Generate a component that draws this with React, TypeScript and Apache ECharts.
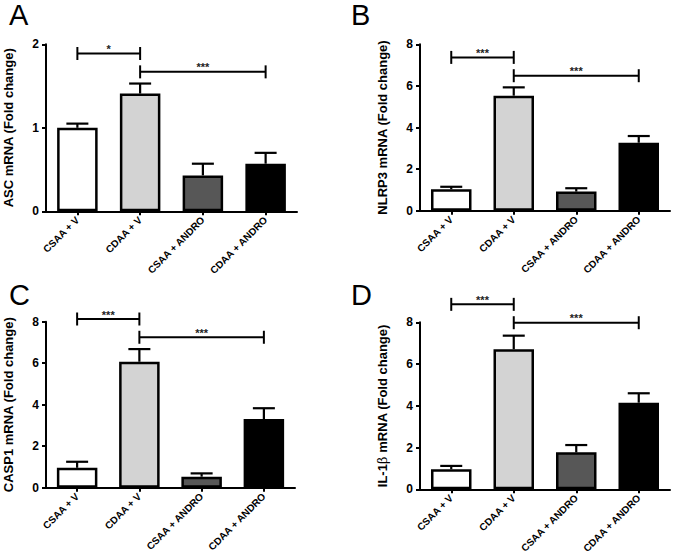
import React, { useEffect, useRef } from "react";
import * as echarts from "echarts";

const categories = ["CSAA + V", "CDAA + V", "CSAA + ANDRO", "CDAA + ANDRO"];
const barColors = ["#ffffff", "#d3d3d3", "#575757", "#000000"];

const ascMean = [1.0, 1.41, 0.43, 0.57];
const ascErr = [0.05, 0.12, 0.14, 0.13];
const nlrp3Mean = [1.03, 5.53, 0.92, 3.27];
const nlrp3Err = [0.12, 0.4, 0.16, 0.32];
const casp1Mean = [0.96, 6.07, 0.53, 3.31];
const casp1Err = [0.29, 0.61, 0.16, 0.52];
const il1bMean = [0.96, 6.71, 1.77, 4.15];
const il1bErr = [0.16, 0.65, 0.35, 0.45];

// significance brackets: [fromCategory, toCategory, yValue]
const ascSig = [[0, 1, 1.89], [1, 3, 1.67]];
const ascSigLabels = ["*", "***"];
const nlrp3Sig = [[0, 1, 7.37], [1, 3, 6.49]];
const nlrp3SigLabels = ["***", "***"];
const casp1Sig = [[0, 1, 8.13], [1, 3, 7.25]];
const casp1SigLabels = ["***", "***"];
const il1bSig = [[0, 1, 8.86], [1, 3, 7.98]];
const il1bSigLabels = ["***", "***"];

const yMaxes = [2, 8, 8, 8];
const yIntervals = [1, 2, 2, 2];
const yNames = [
  "ASC mRNA (Fold change)",
  "NLRP3 mRNA (Fold change)",
  "CASP1 mRNA (Fold change)",
  "IL-1{b|β} mRNA (Fold change)",
];
const panelLetters = ["A", "B", "C", "D"];

const FONT = "'Liberation Sans', Arial, Helvetica, sans-serif";

export default function App() {
  const ref = useRef<HTMLDivElement>(null);
  useEffect(() => {
    if (!ref.current) return;
    const chart = echarts.init(ref.current, null, { renderer: "svg" });
    const grids = [
      { left: 46, top: 44.3, width: 251, height: 167 },
      { left: 420, top: 44.3, width: 250, height: 166.4 },
      { left: 46, top: 321.7, width: 249, height: 166 },
      { left: 420, top: 322.3, width: 250, height: 167 },
    ];
    const means = [ascMean, nlrp3Mean, casp1Mean, il1bMean];
    const errs = [ascErr, nlrp3Err, casp1Err, il1bErr];
    const sigs = [ascSig, nlrp3Sig, casp1Sig, il1bSig];
    const sigLabels = [ascSigLabels, nlrp3SigLabels, casp1SigLabels, il1bSigLabels];
    const letterPos = [
      [9, 15],
      [351, 15],
      [9, 295],
      [351, 295],
    ];

    const series: any[] = [];
    for (let i = 0; i < 4; i++) {
      series.push({
        type: "bar",
        xAxisIndex: i,
        yAxisIndex: i,
        barWidth: 40.5,
        data: means[i].map((v, k) => ({
          value: v,
          itemStyle: { color: barColors[k], borderColor: "#000", borderWidth: 2.5 },
        })),
        z: 2,
      });
      series.push({
        type: "custom",
        xAxisIndex: i,
        yAxisIndex: i,
        z: 3,
        encode: { x: 0, y: [1, 2] },
        data: means[i].map((v, k) => [k, v, v + errs[i][k]]),
        renderItem: (params: any, api: any) => {
          const base = api.coord([api.value(0), api.value(1)]);
          const top = api.coord([api.value(0), api.value(2)]);
          return {
            type: "group",
            children: [
              {
                type: "line",
                shape: { x1: base[0], y1: base[1], x2: base[0], y2: top[1] },
                style: { stroke: "#000", lineWidth: 2.2 },
              },
              {
                type: "line",
                shape: { x1: base[0] - 11, y1: top[1], x2: base[0] + 11, y2: top[1] },
                style: { stroke: "#000", lineWidth: 2.2 },
              },
            ],
          };
        },
      });
      const labels = sigLabels[i];
      series.push({
        type: "custom",
        xAxisIndex: i,
        yAxisIndex: i,
        z: 4,
        clip: false,
        encode: { x: [0, 1], y: 2 },
        data: sigs[i],
        renderItem: (params: any, api: any) => {
          const p1 = api.coord([api.value(0), api.value(2)]);
          const p2 = api.coord([api.value(1), api.value(2)]);
          const y = p1[1];
          const text = labels[params.dataIndex];
          return {
            type: "group",
            children: [
              {
                type: "line",
                shape: { x1: p1[0], y1: y, x2: p2[0], y2: y },
                style: { stroke: "#000", lineWidth: 2 },
              },
              {
                type: "line",
                shape: { x1: p1[0], y1: y - 6.5, x2: p1[0], y2: y + 6.5 },
                style: { stroke: "#000", lineWidth: 2 },
              },
              {
                type: "line",
                shape: { x1: p2[0], y1: y - 6.5, x2: p2[0], y2: y + 6.5 },
                style: { stroke: "#000", lineWidth: 2 },
              },
              {
                type: "text",
                style: {
                  text,
                  x: (p1[0] + p2[0]) / 2,
                  y: y + 1,
                  align: "center",
                  verticalAlign: "bottom",
                  textAlign: "center",
                  textVerticalAlign: "bottom",
                  fill: "#222",
                  fontSize: 11,
                  fontFamily: FONT,
                  fontWeight: "bold",
                },
              },
            ],
          };
        },
      });
    }

    const option: any = {
      animation: false,
      backgroundColor: "#ffffff",
      grid: grids.map((g) => ({ ...g, containLabel: false })),
      xAxis: grids.map((_, i) => ({
        type: "category",
        gridIndex: i,
        data: categories,
        boundaryGap: true,
        axisLine: { lineStyle: { color: "#000", width: 2 } },
        axisTick: { show: true, alignWithLabel: true, length: 4, lineStyle: { color: "#000", width: 2 } },
        axisLabel: {
          rotate: 45,
          interval: 0,
          margin: 7,
          color: "#000",
          fontSize: 10,
          fontWeight: "bold",
          fontFamily: FONT,
        },
        splitLine: { show: false },
      })),
      yAxis: grids.map((_, i) => ({
        type: "value",
        gridIndex: i,
        min: 0,
        max: yMaxes[i],
        interval: yIntervals[i],
        name: yNames[i],
        nameLocation: "middle",
        nameGap: 31,
        nameTextStyle: {
          color: "#000",
          fontSize: 13,
          fontWeight: "bold",
          fontFamily: FONT,
          rich: { b: { fontSize: 13, fontWeight: "normal", fontFamily: "'DejaVu Serif', serif", color: "#000" } },
        },
        axisLine: { show: true, lineStyle: { color: "#000", width: 2 } },
        axisTick: { show: true, length: 4, lineStyle: { color: "#000", width: 2 } },
        axisLabel: { color: "#000", fontSize: 12, fontWeight: "bold", fontFamily: FONT, margin: 7 },
        splitLine: { show: false },
      })),
      graphic: panelLetters.map((t, i) => ({
        type: "text",
        x: letterPos[i][0],
        y: letterPos[i][1],
        style: {
          text: t,
          fill: "#000",
          fontSize: 29,
          fontFamily: FONT,
          verticalAlign: "middle",
          textVerticalAlign: "middle",
        },
      })),
      series,
    };
    chart.setOption(option);
    return () => chart.dispose();
  }, []);
  return (
    <div
      ref={ref}
      style={{ position: "absolute", left: 0, top: 0, width: 675, height: 559, background: "#fff" }}
    />
  );
}
